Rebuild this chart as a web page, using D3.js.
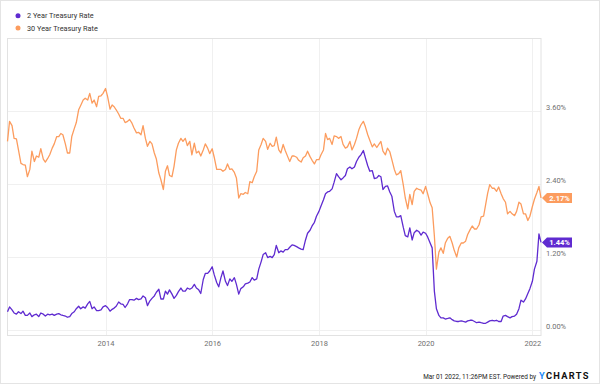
<!DOCTYPE html>
<html>
<head>
<meta charset="utf-8">
<script src="https://cdn.jsdelivr.net/npm/d3@7"></script>
<style>
  html, body { margin: 0; padding: 0; background: #fff; }
  #chart { width: 600px; height: 384px; }
  text { font-family: Roboto, "Noto Sans", sans-serif; }
</style>
</head>
<body>
<div id="chart"></div>
<script>
document.addEventListener('DOMContentLoaded', init, false);

var width = 600;
var height = 384;

var seriesNames = ['2 Year Treasury Rate', '30 Year Treasury Rate'];
var seriesColors = ['#5f2bd0', '#fc9c5e'];

// semi-monthly readings (1st and 15th), Mar 2012 .. Mar 2022
var startYear = 2012;
var startMonth = 2;

var twoYear = [
  0.30, 0.38, 0.33, 0.28, 0.26, 0.30, 0.27, 0.31, 0.24, 0.24,
  0.28, 0.22, 0.25, 0.26, 0.22, 0.28, 0.26, 0.23, 0.26, 0.25,
  0.26, 0.24, 0.26, 0.27, 0.25, 0.24, 0.23, 0.21, 0.22, 0.27,
  0.30, 0.35, 0.39, 0.35, 0.38, 0.36, 0.43, 0.47, 0.35, 0.38,
  0.32, 0.32, 0.33, 0.38, 0.40, 0.37, 0.31, 0.34, 0.36, 0.39,
  0.46, 0.43, 0.42, 0.37, 0.43, 0.50, 0.50, 0.49, 0.52, 0.50,
  0.51, 0.56, 0.53, 0.40, 0.48, 0.52, 0.56, 0.62, 0.67, 0.51,
  0.51, 0.64, 0.59, 0.66, 0.59, 0.52, 0.57, 0.63, 0.69, 0.64,
  0.64, 0.69, 0.67, 0.69, 0.75, 0.69, 0.66, 0.60, 0.83, 0.93,
  0.93, 0.97, 1.04, 0.91, 0.78, 0.71, 0.86, 0.97, 0.80, 0.73,
  0.84, 0.80, 0.86, 0.75, 0.59, 0.68, 0.71, 0.76, 0.77, 0.79,
  0.86, 0.82, 0.84, 1.00, 1.12, 1.24, 1.27, 1.19, 1.21, 1.19,
  1.24, 1.39, 1.27, 1.30, 1.28, 1.32, 1.32, 1.36, 1.40, 1.39,
  1.37, 1.35, 1.33, 1.32, 1.48, 1.59, 1.64, 1.71, 1.77, 1.87,
  1.95, 2.04, 2.14, 2.24, 2.27, 2.28, 2.32, 2.43, 2.57, 2.52,
  2.47, 2.50, 2.54, 2.65, 2.68, 2.65, 2.68, 2.77, 2.84, 2.88,
  2.95, 2.83, 2.70, 2.61, 2.62, 2.49, 2.50, 2.54, 2.52, 2.31,
  2.36, 2.37, 2.27, 2.20, 1.95, 1.86, 1.86, 1.88, 1.69, 1.55,
  1.53, 1.68, 1.48, 1.60, 1.64, 1.62, 1.56, 1.61, 1.59, 1.53,
  1.43, 1.35, 0.64, 0.35, 0.24, 0.20, 0.20, 0.18, 0.19, 0.20,
  0.17, 0.15, 0.14, 0.14, 0.15, 0.14, 0.13, 0.15, 0.16, 0.16,
  0.14, 0.12, 0.13, 0.12, 0.11, 0.11, 0.13, 0.15, 0.16, 0.15,
  0.16, 0.14, 0.14, 0.23, 0.24, 0.22, 0.20, 0.22, 0.23, 0.26,
  0.35, 0.49, 0.46, 0.51, 0.60, 0.68, 0.80, 1.00, 1.13, 1.58,
  1.44
];

var thirtyYear = [
  3.10, 3.43, 3.36, 3.15, 3.14, 2.96, 2.74, 2.72, 2.71, 2.52,
  2.64, 2.94, 2.77, 2.86, 2.84, 2.98, 2.81, 2.76, 2.82, 2.88,
  2.99, 3.06, 3.18, 3.18, 3.23, 3.21, 3.06, 2.91, 2.91, 3.18,
  3.31, 3.41, 3.62, 3.69, 3.78, 3.81, 3.78, 3.89, 3.73, 3.78,
  3.67, 3.84, 3.85, 3.89, 3.97, 3.84, 3.63, 3.70, 3.67, 3.62,
  3.55, 3.48, 3.48, 3.41, 3.43, 3.46, 3.40, 3.32, 3.24, 3.25,
  3.21, 3.36, 3.15, 3.02, 3.10, 3.06, 2.91, 2.81, 2.58, 2.47,
  2.31, 2.61, 2.70, 2.54, 2.52, 2.69, 2.96, 3.07, 3.15, 3.10,
  3.15, 3.03, 3.10, 2.88, 3.07, 2.91, 2.94, 2.86, 2.96, 3.06,
  2.99, 2.90, 2.98, 2.84, 2.64, 2.64, 2.64, 2.61, 2.64, 2.73,
  2.64, 2.65, 2.59, 2.50, 2.17, 2.24, 2.23, 2.26, 2.24, 2.44,
  2.42, 2.52, 2.61, 2.96, 3.05, 3.15, 3.10, 2.97, 3.07, 3.02,
  3.03, 3.17, 2.96, 2.91, 3.05, 2.95, 2.85, 2.77, 2.86, 2.86,
  2.84, 2.79, 2.76, 2.83, 2.86, 2.94, 2.85, 2.79, 2.73, 2.80,
  2.80, 2.88, 2.96, 3.23, 3.13, 3.15, 3.05, 3.19, 3.18, 3.15,
  3.18, 3.05, 2.99, 3.01, 3.10, 2.96, 3.05, 3.15, 3.29, 3.37,
  3.43, 3.34, 3.21, 3.12, 3.01, 3.06, 3.00, 3.05, 3.10, 2.94,
  2.88, 2.99, 2.93, 2.80, 2.64, 2.55, 2.57, 2.62, 2.39, 2.17,
  1.99, 2.23, 2.06, 2.28, 2.33, 2.31, 2.30, 2.24, 2.36, 2.24,
  2.09, 2.01, 1.55, 1.00, 1.28, 1.35, 1.26, 1.43, 1.51, 1.54,
  1.43, 1.31, 1.20, 1.35, 1.43, 1.43, 1.46, 1.57, 1.65, 1.71,
  1.66, 1.66, 1.73, 1.86, 1.87, 2.06, 2.25, 2.39, 2.33, 2.33,
  2.28, 2.35, 2.24, 2.16, 2.10, 1.91, 1.95, 1.91, 1.88, 1.95,
  2.10, 2.07, 1.91, 1.91, 1.80, 1.87, 2.03, 2.15, 2.26, 2.36,
  2.17
];

var yTicks = [0, 1.2, 2.4, 3.6];
var xTickYears = [2014, 2016, 2018, 2020, 2022];
var footerText = 'Mar 01 2022, 11:26PM EST. Powered by';

var plot = { left: 7.5, right: 541, top: 38, bottom: 335 };

function init() {

  var svg = d3.select('#chart')
    .append('svg')
      .attr('width', width)
      .attr('height', height)
      .attr('viewBox', '0 0 ' + width + ' ' + height);

  var dates = twoYear.map(function (d, i) {
    return new Date(startYear, startMonth + Math.floor(i / 2), i % 2 ? 15 : 1);
  });

  var x = d3.scaleTime()
    .domain([new Date(2012, 2, 1), new Date(2022, 2, 1)])
    .range([plot.left, plot.right]);

  var y = d3.scaleLinear()
    .domain([0, 3.6])
    .range([330, 111]);

  // outer frame
  svg.append('rect')
    .attr('x', 0.5).attr('y', 0.5)
    .attr('width', width - 1).attr('height', height - 1)
    .attr('fill', 'none')
    .attr('stroke', '#e4e4e4');

  // grid
  var grid = svg.append('g').attr('class', 'grid');

  grid.selectAll('.hline')
    .data(yTicks)
    .enter()
    .append('line')
      .attr('x1', plot.left).attr('x2', plot.right)
      .attr('y1', function (d) { return Math.round(y(d)) + 0.5; })
      .attr('y2', function (d) { return Math.round(y(d)) + 0.5; })
      .attr('stroke', '#f0f0f0');

  grid.selectAll('.vline')
    .data(xTickYears)
    .enter()
    .append('line')
      .attr('x1', function (d) { return Math.round(x(new Date(d, 0, 1))) + 0.5; })
      .attr('x2', function (d) { return Math.round(x(new Date(d, 0, 1))) + 0.5; })
      .attr('y1', plot.top).attr('y2', plot.bottom)
      .attr('stroke', '#f0f0f0');

  svg.append('rect')
    .attr('x', plot.left).attr('y', plot.top + 0.5)
    .attr('width', plot.right - plot.left)
    .attr('height', plot.bottom - plot.top)
    .attr('fill', 'none')
    .attr('stroke', '#e2e2e2');

  // axes labels
  var yAxis = d3.axisRight(y)
    .tickValues(yTicks)
    .tickSize(0)
    .tickPadding(0)
    .tickFormat(function (d) { return d3.format('.2f')(d) + '%'; });

  svg.append('g')
    .attr('transform', 'translate(546,0)')
    .call(yAxis)
    .call(function (g) {
      g.select('.domain').remove();
      g.selectAll('text')
        .attr('x', 0)
        .attr('dy', '-0.15em')
        .attr('fill', '#707070')
        .attr('font-size', '7.5px')
        .attr('font-family', 'Roboto, sans-serif');
    });

  var xAxis = d3.axisBottom(x)
    .tickValues(xTickYears.map(function (d) { return new Date(d, 0, 1); }))
    .tickSize(0)
    .tickPadding(0)
    .tickFormat(d3.timeFormat('%Y'));

  svg.append('g')
    .attr('transform', 'translate(0,340)')
    .call(xAxis)
    .call(function (g) {
      g.select('.domain').remove();
      g.selectAll('text')
        .attr('y', 0)
        .attr('dy', '0.75em')
        .attr('fill', '#707070')
        .attr('font-size', '7.5px')
        .attr('font-family', 'Roboto, sans-serif');
    });

  // lines
  var line = d3.line()
    .x(function (d) { return x(d.date); })
    .y(function (d) { return y(d.value); });

  var series = [twoYear, thirtyYear].map(function (values, k) {
    return {
      name: seriesNames[k],
      color: seriesColors[k],
      points: values.map(function (v, i) { return { date: dates[i], value: v }; })
    };
  });

  svg.append('g')
    .attr('class', 'lines')
    .selectAll('path')
      .data(series.slice().reverse())
      .enter()
    .append('path')
      .attr('fill', 'none')
      .attr('stroke', function (d) { return d.color; })
      .attr('stroke-width', 1.3)
      .attr('stroke-linejoin', 'round')
      .attr('d', function (d) { return line(d.points); });

  // end value markers
  var markers = svg.append('g')
    .attr('class', 'markers')
    .selectAll('g')
      .data(series)
      .enter()
    .append('g')
      .attr('transform', function (d) {
        var last = d.points[d.points.length - 1];
        return 'translate(' + 542 + ',' + y(last.value) + ')';
      });

  markers.append('path')
    .attr('fill', function (d) { return d.color; })
    .attr('d', 'M0,0 L5,-5 L30,-5 L30,5 L5,5 Z');

  markers.append('text')
    .attr('x', 17.5)
    .attr('dy', '0.36em')
    .attr('text-anchor', 'middle')
    .attr('fill', '#fff')
    .attr('font-weight', 'bold')
    .attr('font-size', '7.5px')
    .text(function (d) {
      return d3.format('.2f')(d.points[d.points.length - 1].value) + '%';
    });

  // legend
  var legend = svg.append('g')
    .attr('class', 'legend')
    .selectAll('g')
      .data(series)
      .enter()
    .append('g')
      .attr('transform', function (d, i) {
        return 'translate(18,' + (15.7 + i * 12.3) + ')';
      });

  legend.append('circle')
    .attr('r', 2.5)
    .attr('fill', function (d) { return d.color; });

  legend.append('text')
    .attr('x', 9)
    .attr('dy', '0.35em')
    .attr('fill', '#333')
    .attr('font-size', '7.3px')
    .text(function (d) { return d.name; });

  // footer
  svg.append('text')
    .attr('x', 536)
    .attr('y', 378.5)
    .attr('text-anchor', 'end')
    .attr('fill', '#222')
    .attr('font-size', '6.4px')
    .text(footerText);

  var logo = svg.append('text')
    .attr('x', 539)
    .attr('y', 379.3)
    .attr('font-size', '9.3px')
    .attr('font-weight', 'bold')
    .attr('letter-spacing', '1.3px');

  logo.append('tspan').attr('fill', '#1d8cf8').text('Y');
  logo.append('tspan').attr('fill', '#111').text('CHARTS');
}
</script>
</body>
</html>
